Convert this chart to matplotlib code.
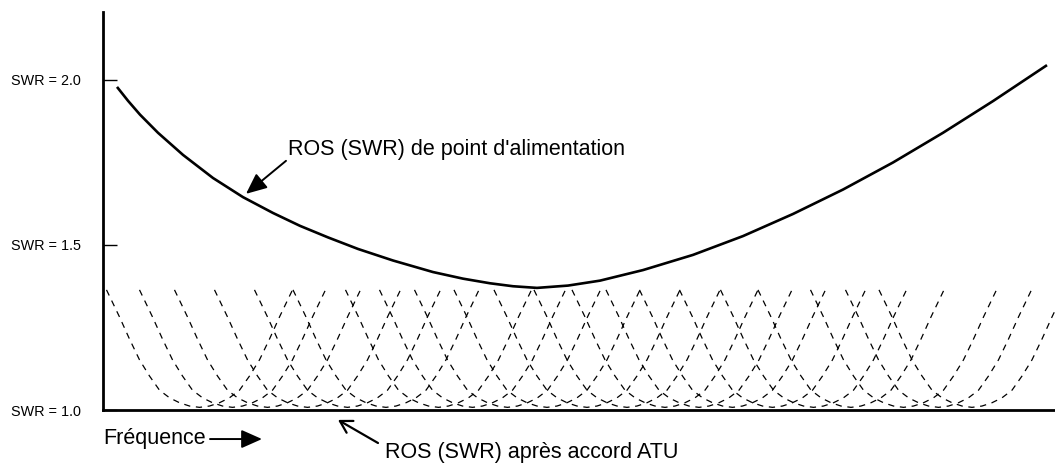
import matplotlib.pyplot as plt

plt.rcParams['font.family'] = ['Liberation Sans', 'DejaVu Sans']

# feed point SWR curve (frequency in arbitrary units)
feed_freq = [1.4, 2.5, 3.7, 5.5, 8.0, 11.0, 14.0, 17.0, 19.7, 22.5, 25.5, 29.0, 33.0,
             36.0, 38.7, 41.0, 43.4, 46.5, 49.7, 54.0, 59.0, 64.0, 69.0, 74.0, 79.0,
             84.0, 89.0, 94.4]
feed_swr = [1.979, 1.937, 1.895, 1.840, 1.773, 1.703, 1.645, 1.597, 1.558, 1.523, 1.488,
            1.453, 1.418, 1.398, 1.384, 1.375, 1.370, 1.377, 1.392, 1.424, 1.470, 1.527,
            1.594, 1.668, 1.750, 1.840, 1.936, 2.045]

# SWR after ATU tuning: centre frequency of each tuned dip
tuned_centres = [9.65, 12.95, 16.45, 20.45, 24.45, 28.3, 33.55, 36.95, 40.45, 44.4, 48.4,
                 52.4, 56.2, 59.6, 62.95, 66.95, 71.05, 74.8, 80.05, 83.55, 86.9]
# shape of one dip: offset from centre and SWR
dip_offset = [-9.3, -8.0, -7.0, -6.0, -5.0, -4.0, -3.0, -2.0, -1.0, 0.0,
              1.0, 2.0, 3.0, 4.0, 5.0, 6.0, 7.0, 8.0, 9.3]
dip_swr = [1.364, 1.282, 1.215, 1.152, 1.103, 1.060, 1.037, 1.022, 1.012, 1.008,
           1.012, 1.022, 1.037, 1.060, 1.103, 1.152, 1.215, 1.282, 1.364]

ytick_vals = [1.0, 1.5, 2.0]
ytick_labels = ['SWR = 1.0', 'SWR = 1.5', 'SWR = 2.0']

fig = plt.figure(figsize=(10.55, 4.66), dpi=100)
ax = fig.add_axes([103 / 1055, 56 / 466, 952 / 1055, 398 / 466])

for c in tuned_centres:
    ax.plot([c + d for d in dip_offset], dip_swr, color='black', lw=0.9,
            linestyle=(0, (5, 4.5)))

ax.plot(feed_freq, feed_swr, color='black', lw=1.9, solid_capstyle='butt',
        solid_joinstyle='round')

ax.set_xlim(0, 95.2)
ax.set_ylim(1.0, 2.206)
ax.spines['top'].set_visible(False)
ax.spines['right'].set_visible(False)
ax.spines['left'].set_linewidth(2.0)
ax.spines['bottom'].set_linewidth(2.0)
ax.set_xticks([])
ax.set_yticks(ytick_vals)
ax.set_yticklabels(ytick_labels)
ax.tick_params(axis='y', direction='in', length=10, width=1.0, pad=16, labelsize=10.4)

ax.annotate('', xy=(14.3, 1.655), xytext=(18.3, 1.755),
            arrowprops=dict(arrowstyle='-|>,head_length=0.9,head_width=0.4',
                            color='black', lw=1.4, mutation_scale=14,
                            shrinkA=0, shrinkB=0))
ax.text(18.5, 1.79, "ROS (SWR) de point d'alimentation", fontsize=15.5,
        ha='left', va='center')

ax.text(0.0, 0.915, 'Fréquence', fontsize=15.5, ha='left', va='center')
ax.annotate('', xy=(15.9, 0.912), xytext=(10.7, 0.912), annotation_clip=False,
            arrowprops=dict(arrowstyle='-|>,head_length=0.9,head_width=0.4',
                            color='black', lw=1.4, mutation_scale=14,
                            shrinkA=0, shrinkB=0))

ax.annotate('', xy=(23.5, 0.97), xytext=(27.5, 0.9), annotation_clip=False,
            arrowprops=dict(arrowstyle='->,head_length=0.6,head_width=0.35',
                            color='black', lw=1.6, mutation_scale=14,
                            shrinkA=0, shrinkB=0))
ax.text(28.2, 0.872, 'ROS (SWR) après accord ATU', fontsize=15.5,
        ha='left', va='center')

fig.savefig('out.png', dpi=100)
